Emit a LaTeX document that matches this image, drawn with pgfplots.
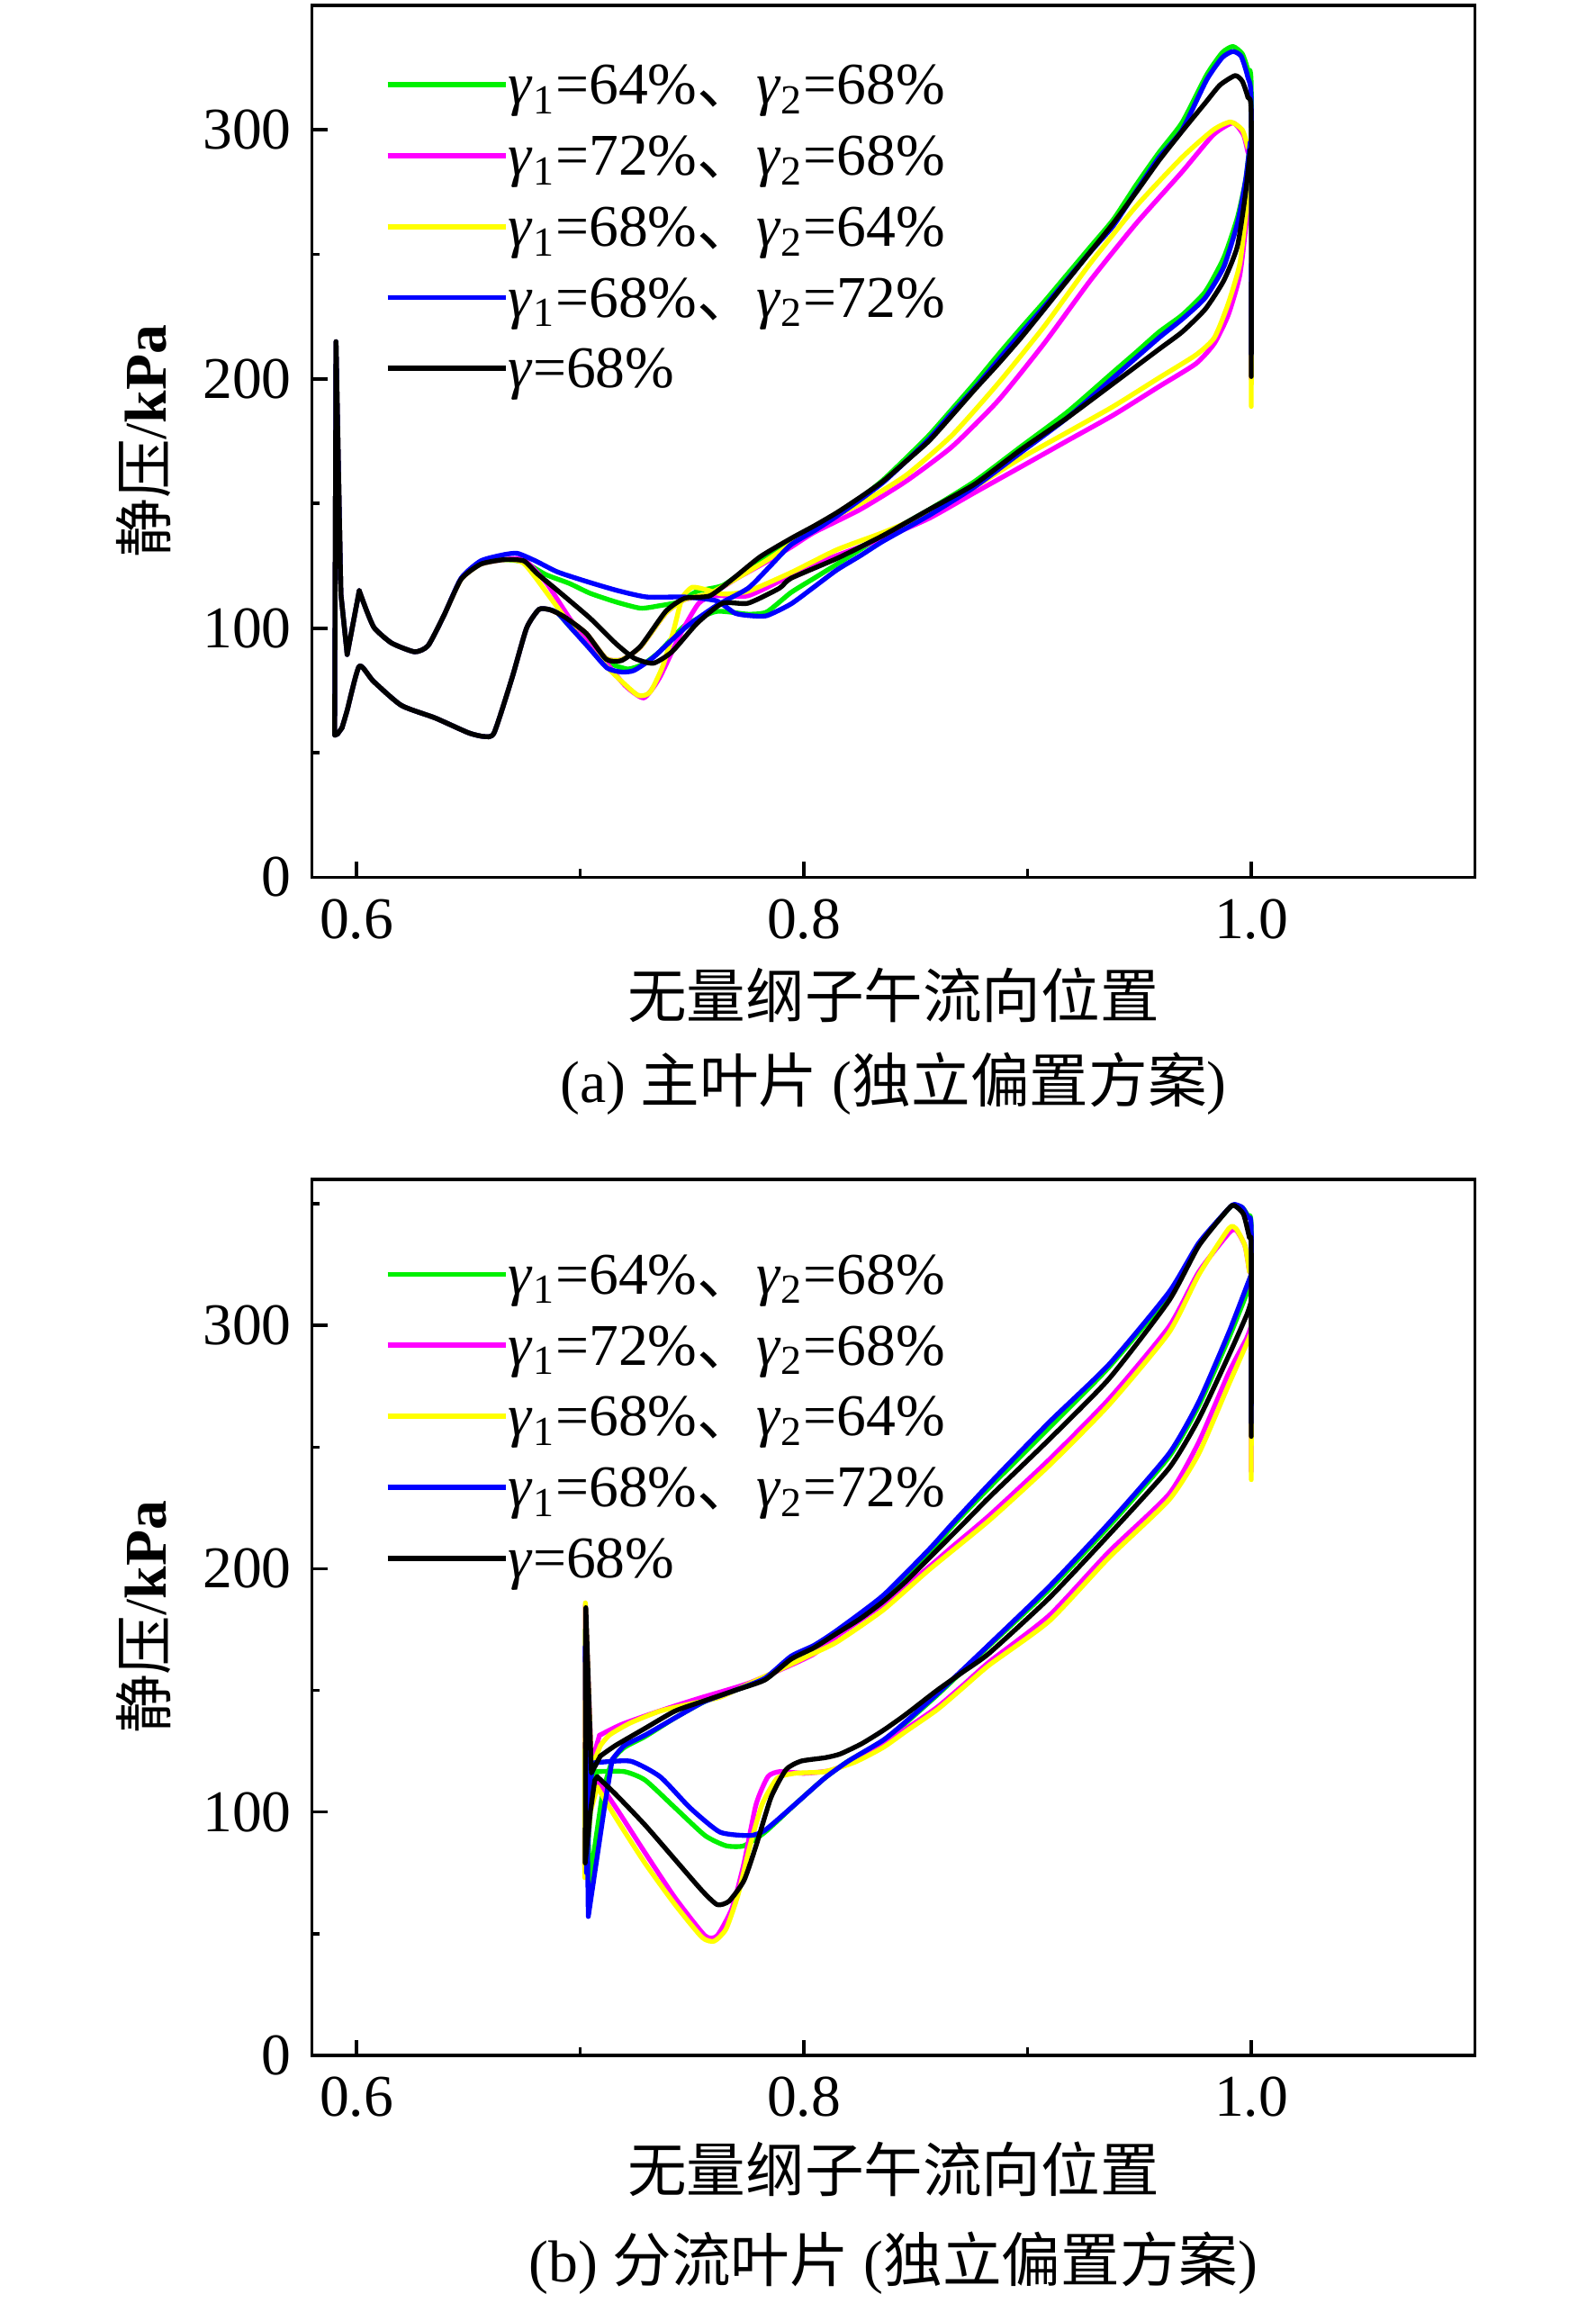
\documentclass[border=0pt]{standalone}
\usepackage{pgfplots}
\pgfplotsset{compat=1.18}
\usepackage{fontspec}
\setmainfont{Liberation Serif}
\newfontfamily\cjk{Noto Sans CJK SC}
\newcommand\fs{\fontsize{16pt}{19pt}\selectfont}
\definecolor{cG}{RGB}{0,240,0}
\definecolor{cM}{RGB}{255,0,255}
\definecolor{cY}{RGB}{255,255,0}
\definecolor{cB}{RGB}{0,0,255}
\pgfplotsset{
  myaxis/.style={
    scale only axis, width=315pt,
    xmin=0.58, xmax=1.10, ymin=0,
    xtick={0.6,0.8,1.0}, xticklabels={0.6,0.8,1.0},
    minor xtick={0.7,0.9},
    ytick={0,100,200,300}, yticklabels={0,100,200,300},
    minor ytick={50,150,250,350},
    tick align=inside, tick pos=left,
    major tick length=4.2pt, minor tick length=2.2pt,
    tick style={black, line width=0.9pt},
    axis line style={line width=0.9pt},
    xticklabel style={font=\fs, yshift=-2.4pt},
    yticklabel style={font=\fs, xshift=-2pt},
    every axis plot/.append style={smooth, tension=0.35, line width=1.3pt, line join=round, line cap=round, no markers},
    legend cell align=left,
    legend image code/.code={\draw[##1,line width=1.4pt,line cap=butt] (0pt,0pt) -- (32pt,0pt);},
  },
  mylegend/.style={legend style={draw=none, fill=none, inner sep=0pt, outer sep=0pt,
    at={(axis description cs:0,1)}, anchor=north west, xshift=19.85pt, yshift=#1,
    row sep=4.6pt, font=\fs, nodes={inner sep=0pt, text height=12.6pt, text depth=2pt},
    /tikz/every even column/.append style={column sep=5pt}}},
  spk/.style={forget plot, sharp plot},
}
\begin{document}
\begin{tikzpicture}
\useasboundingbox (0,0) rectangle (432pt,623.6pt);
% ---------------- (a) main blade ----------------
\begin{axis}[myaxis, name=top, at={(84.45pt,386.05pt)}, anchor=south west,
  height=236.1pt, ymax=350, mylegend=-14.2pt]
% green
\addplot[cG] coordinates {(1.0,210) (1.0,316.6) (0.9985,324) (0.9960,330.5) (0.9918,333.5) (0.9870,331) (0.9800,322) (0.9691,303) (0.9588,291) (0.9486,278) (0.9383,264) (0.9280,253) (0.9177,242) (0.9074,231) (0.8971,220.5) (0.8868,209.7) (0.8765,198.5) (0.8663,188) (0.8560,177.5) (0.8457,168.3) (0.8354,159.5) (0.8251,152) (0.8148,145.3) (0.8045,139.5) (0.7942,134) (0.7850,129) (0.7750,124) (0.7636,117.1) (0.7523,114.8) (0.7440,110.5) (0.7354,109) (0.7270,108) (0.7160,110.5) (0.7044,114) (0.6950,118) (0.6846,121.5) (0.6748,126.5) (0.6659,127.5) (0.6555,125.7) (0.6467,119.6) (0.6390,105) (0.6320,93) (0.6260,90.5) (0.6157,94) (0.6080,100) (0.6045,107) (0.6012,115)};
\addlegendentry{\textit{γ}\textsubscript{1}=64\%{\cjk 、}\textit{γ}\textsubscript{2}=68\%}
\addplot[cG,spk] coordinates {(0.6012,115) (0.5958,89.4) (0.5930,113.7) (0.5908,215) (0.5902,57) (0.5915,57.5) (0.5935,60)};
\addplot[cG,forget plot] coordinates {(0.5935,60) (0.5958,67) (0.6012,84.7) (0.6075,78.7) (0.6200,69) (0.6350,64) (0.6500,58) (0.6570,56.5) (0.6615,58) (0.6695,80) (0.6760,100) (0.6815,107.5) (0.6860,107.5) (0.6900,106) (0.6960,100) (0.7050,92) (0.7130,86) (0.7213,83.6) (0.7280,85.5) (0.7354,90.5) (0.7467,101) (0.7608,106.7) (0.7750,105.6) (0.7834,106.5) (0.7942,114.3) (0.8045,120) (0.8148,125.7) (0.8251,131.5) (0.8354,137.2) (0.8560,147.6) (0.8765,159) (0.8971,172.9) (0.9177,186.7) (0.9383,202.8) (0.9486,210.8) (0.9588,218.9) (0.9691,225.7) (0.9794,235) (0.9877,248.7) (0.9938,264.8) (0.9975,280) (0.9995,295)};
% magenta
\addplot[cM] coordinates {(1.0,200) (1.0,285) (0.9985,291) (0.9965,298) (0.9918,302.8) (0.9830,298) (0.9691,283.2) (0.9486,262.5) (0.9280,239.5) (0.9074,214.3) (0.8868,191.3) (0.8663,172.9) (0.8457,159) (0.8251,147.6) (0.8045,138.4) (0.7942,132.5) (0.7830,126.5) (0.7700,120) (0.7580,113.5) (0.7467,111.5) (0.7382,106) (0.7270,92.5) (0.7185,87.3) (0.7116,87.8) (0.7028,97.8) (0.6940,103.9) (0.6900,106) (0.6860,107.5) (0.6815,107.5) (0.6760,100) (0.6695,80) (0.6615,58) (0.6570,56.5) (0.6500,58) (0.6350,64) (0.6200,69) (0.6075,78.7) (0.6012,84.7) (0.5958,67) (0.5935,60)};
\addlegendentry{\textit{γ}\textsubscript{1}=72\%{\cjk 、}\textit{γ}\textsubscript{2}=68\%}
\addplot[cM,spk] coordinates {(0.5935,60) (0.5915,57.5) (0.5902,57) (0.5908,215) (0.5930,113.7) (0.5958,89.4) (0.6012,115)};
\addplot[cM,forget plot] coordinates {(0.6012,115) (0.6045,107) (0.6080,100) (0.6157,94) (0.6260,90.5) (0.6320,93) (0.6390,105) (0.6467,119.6) (0.6555,125.7) (0.6659,127.5) (0.6748,127.5) (0.6850,118) (0.6960,103) (0.7100,88) (0.7200,77) (0.7284,72) (0.7354,80) (0.7450,98) (0.7530,110) (0.7600,113) (0.7750,113) (0.7942,121.1) (0.8045,125.7) (0.8148,129.2) (0.8354,136.1) (0.8560,144.1) (0.8765,154.5) (0.8971,164.8) (0.9177,175.2) (0.9383,185.5) (0.9588,197) (0.9753,206.2) (0.9835,214.3) (0.9897,225.7) (0.9949,241.8) (0.9980,265) (0.9995,282)};
% yellow
\addplot[cY] coordinates {(1.0,189) (1.0,288) (0.9985,293) (0.9960,300) (0.9907,303.2) (0.9830,300) (0.9691,289) (0.9486,269.4) (0.9280,246.4) (0.9074,221.1) (0.8868,198.2) (0.8663,177.5) (0.8457,161.4) (0.8251,149.9) (0.8045,140.7) (0.7942,133.8) (0.7830,127) (0.7700,120) (0.7580,114) (0.7467,111.5) (0.7382,106) (0.7270,92.5) (0.7185,87.3) (0.7116,87.8) (0.7028,97.8) (0.6940,103.9) (0.6900,106) (0.6860,107.5) (0.6815,107.5) (0.6760,100) (0.6695,80) (0.6615,58) (0.6570,56.5) (0.6500,58) (0.6350,64) (0.6200,69) (0.6075,78.7) (0.6012,84.7) (0.5958,67) (0.5935,60)};
\addlegendentry{\textit{γ}\textsubscript{1}=68\%{\cjk 、}\textit{γ}\textsubscript{2}=64\%}
\addplot[cY,spk] coordinates {(0.5935,60) (0.5915,57.5) (0.5902,57) (0.5908,215) (0.5930,113.7) (0.5958,89.4) (0.6012,115)};
\addplot[cY,forget plot] coordinates {(0.6012,115) (0.6045,107) (0.6080,100) (0.6157,94) (0.6260,90.5) (0.6320,93) (0.6390,105) (0.6467,119.6) (0.6555,125.7) (0.6659,127.5) (0.6748,126) (0.6874,111.3) (0.6987,97.5) (0.7128,83.6) (0.7255,73.2) (0.7312,74.3) (0.7370,85) (0.7420,100) (0.7455,112) (0.7500,116.4) (0.7560,115.5) (0.7636,113.7) (0.7750,114.8) (0.7942,122.3) (0.8148,131.5) (0.8354,138.4) (0.8560,146.4) (0.8765,156.8) (0.8971,168.3) (0.9177,178.6) (0.9383,189) (0.9588,200.5) (0.9753,209.7) (0.9835,216.6) (0.9897,230.3) (0.9949,246.4) (0.9980,270) (0.9995,285)};
% blue
\addplot[cB] coordinates {(1.0,210) (1.0,310) (0.9985,321) (0.9955,329.5) (0.9918,331.5) (0.9870,329) (0.9800,320) (0.9691,300) (0.9588,289) (0.9486,275.5) (0.9383,261.5) (0.9280,251) (0.9177,240) (0.9074,229) (0.8971,218.5) (0.8868,207.5) (0.8765,196.5) (0.8663,186.5) (0.8560,176) (0.8457,167) (0.8354,158.5) (0.8251,151.5) (0.8148,145) (0.8045,139) (0.7942,133.5) (0.7850,125) (0.7750,116) (0.7608,109) (0.7467,100) (0.7326,88.2) (0.7240,83) (0.7185,82.4) (0.7120,84) (0.7040,92) (0.6960,100) (0.6900,106) (0.6860,107.5) (0.6815,107.5) (0.6760,100) (0.6695,80) (0.6615,58) (0.6570,56.5) (0.6500,58) (0.6350,64) (0.6200,69) (0.6075,78.7) (0.6012,84.7) (0.5958,67) (0.5935,60)};
\addlegendentry{\textit{γ}\textsubscript{1}=68\%{\cjk 、}\textit{γ}\textsubscript{2}=72\%}
\addplot[cB,spk] coordinates {(0.5935,60) (0.5915,57.5) (0.5902,57) (0.5908,215) (0.5930,113.7) (0.5958,89.4) (0.6012,115)};
\addplot[cB,forget plot] coordinates {(0.6012,115) (0.6045,107) (0.6080,100) (0.6157,94) (0.6260,90.5) (0.6320,93) (0.6390,105) (0.6467,120) (0.6555,127) (0.6659,129.5) (0.6720,130) (0.6800,127) (0.6900,122.5) (0.7044,118.3) (0.7170,115) (0.7298,112.5) (0.7467,112.5) (0.7608,111) (0.7692,106) (0.7760,105) (0.7834,105) (0.7942,109.7) (0.8045,116.5) (0.8148,123.4) (0.8251,129) (0.8354,134.9) (0.8560,145.3) (0.8765,156.8) (0.8971,170.6) (0.9177,184.4) (0.9383,200.5) (0.9588,216.6) (0.9691,224) (0.9794,232.6) (0.9877,245) (0.9938,262.5) (0.9975,280) (0.9995,295)};
% black
\addplot[black] coordinates {(1.0,201) (1.0,305) (0.9985,313) (0.9960,319.5) (0.9928,321.8) (0.9860,318) (0.9794,310.8) (0.9691,299.5) (0.9588,287.8) (0.9486,275) (0.9383,262.5) (0.9280,251) (0.9177,239.5) (0.9074,228) (0.8971,216.6) (0.8868,206) (0.8765,195.9) (0.8663,185.5) (0.8560,175.2) (0.8457,167) (0.8354,159) (0.8251,152.5) (0.8148,146.4) (0.8045,141) (0.7942,136) (0.7805,128.7) (0.7693,120.6) (0.7580,113) (0.7467,112) (0.7382,106.7) (0.7270,92.8) (0.7185,87) (0.7116,87.5) (0.7028,97.8) (0.6940,103.9) (0.6900,106) (0.6860,107.5) (0.6815,107.5) (0.6760,100) (0.6695,80) (0.6615,58) (0.6570,56.5) (0.6500,58) (0.6350,64) (0.6200,69) (0.6075,78.7) (0.6012,84.7) (0.5958,67) (0.5935,60)};
\addlegendentry{\textit{γ}=68\%}
\addplot[black,spk] coordinates {(0.5935,60) (0.5915,57.5) (0.5902,57) (0.5908,215) (0.5930,113.7) (0.5958,89.4) (0.6012,115)};
\addplot[black,forget plot] coordinates {(0.6012,115) (0.6045,107) (0.6080,100) (0.6157,94) (0.6260,90.5) (0.6320,93) (0.6390,105) (0.6467,119.6) (0.6555,125.7) (0.6659,127.5) (0.6748,127) (0.6806,122) (0.6900,115) (0.7044,104) (0.7157,94) (0.7240,88) (0.7326,85.9) (0.7410,90.5) (0.7523,102) (0.7636,110) (0.7750,110) (0.7890,116) (0.7942,120) (0.8148,128) (0.8354,137.2) (0.8560,147.6) (0.8765,157.9) (0.8971,171.7) (0.9177,184.4) (0.9383,198.2) (0.9588,212) (0.9691,218.9) (0.9794,228) (0.9877,239.5) (0.9938,253.3) (0.9975,275) (0.9995,292)};
\end{axis}
\node[font=\fs, rotate=90, anchor=center] at ([xshift=-45.65pt]top.west) {{\cjk 静压}/\textbf{kPa}};
\node[font=\fs, anchor=center] at ([yshift=-32pt]top.south) {\cjk 无量纲子午流向位置};
\node[font=\fs, anchor=center] at ([yshift=-56pt]top.south) {(a) {\cjk 主叶片} ({\cjk 独立偏置方案})};
% ---------------- (b) splitter blade ----------------
\begin{axis}[myaxis, name=bot, at={(84.45pt,67.1pt)}, anchor=south west,
  height=237.1pt, ymax=360, mylegend=-18.4pt]
% green
\addplot[cG] coordinates {(1.0,260) (1.0,339.8) (0.9985,345) (0.9960,348.5) (0.9925,349.5) (0.9899,348) (0.9765,333.5) (0.9632,312.5) (0.9364,282.9) (0.9097,258) (0.8830,233.5) (0.8663,217.5) (0.8560,206.3) (0.8354,188) (0.8148,174) (0.8045,168) (0.7942,163.5) (0.7826,155) (0.7692,150) (0.7558,145.5) (0.7424,138.7) (0.7290,131) (0.7197,126.5) (0.7143,121) (0.7100,108)};
\addlegendentry{\textit{γ}\textsubscript{1}=64\%{\cjk 、}\textit{γ}\textsubscript{2}=68\%}
\addplot[cG,spk] coordinates {(0.7100,108) (0.7040,70) (0.7022,175) (0.7028,78) (0.7055,112) (0.7076,116.6)};
\addplot[cG,forget plot] coordinates {(0.7076,116.6) (0.7197,116.6) (0.7290,113.1) (0.7424,101.7) (0.7558,90.3) (0.7652,86.1) (0.7732,86.1) (0.7826,91.7) (0.7960,103.1) (0.8094,114) (0.8200,121) (0.8354,129) (0.8454,136.5) (0.8595,148) (0.8710,158) (0.8830,168.5) (0.9097,191.5) (0.9364,217.5) (0.9632,246) (0.9765,267) (0.9899,294.7) (0.9979,313) (1.0,318)};
% magenta
\addplot[cM] coordinates {(1.0,240) (1.0,318) (0.9992,322) (0.9972,332.7) (0.9932,339.3) (0.9899,337.9) (0.9765,322) (0.9632,299.5) (0.9364,269.8) (0.9097,244.9) (0.8830,222) (0.8663,209) (0.8560,200.8) (0.8354,185.4) (0.8148,172.3) (0.8045,165) (0.7942,160.4) (0.7749,152.8) (0.7523,146.5) (0.7354,141.5) (0.7185,136) (0.7086,131.5)};
\addlegendentry{\textit{γ}\textsubscript{1}=72\%{\cjk 、}\textit{γ}\textsubscript{2}=68\%}
\addplot[cM,spk] coordinates {(0.7086,131.5) (0.7050,120) (0.7023,185) (0.7020,78) (0.7045,105) (0.7076,113.1)};
\addplot[cM,forget plot] coordinates {(0.7076,113.1) (0.7170,100.3) (0.7290,83.2) (0.7424,64.7) (0.7558,49.1) (0.7612,49.1) (0.7679,60.5) (0.7732,78.9) (0.7786,103.1) (0.7839,114.5) (0.7893,116.6) (0.8000,115.9) (0.8116,117) (0.8228,121) (0.8354,128) (0.8454,134) (0.8595,143) (0.8710,152) (0.8830,161.8) (0.9097,180.8) (0.9364,207) (0.9632,230.7) (0.9765,252) (0.9899,280.5) (0.9979,294.7) (1.0,300)};
% yellow
\addplot[cY] coordinates {(1.0,236.6) (1.0,318) (0.9992,322) (0.9972,332.7) (0.9932,339.8) (0.9899,339.8) (0.9765,320.8) (0.9632,297.1) (0.9364,267.4) (0.9097,242.5) (0.8830,220) (0.8560,199.6) (0.8354,183) (0.8148,169.9) (0.8027,164.5) (0.7893,158.6) (0.7759,152.9) (0.7625,147.2) (0.7491,144.4) (0.7357,141.5) (0.7224,136.6) (0.7130,131.6) (0.7090,127.3)};
\addlegendentry{\textit{γ}\textsubscript{1}=68\%{\cjk 、}\textit{γ}\textsubscript{2}=64\%}
\addplot[cY,spk] coordinates {(0.7090,127.3) (0.7050,118) (0.7023,186) (0.7020,73) (0.7045,100) (0.7076,110.2)};
\addplot[cY,forget plot] coordinates {(0.7076,110.2) (0.7170,96) (0.7290,78.9) (0.7424,61.9) (0.7545,48.4) (0.7599,46.9) (0.7652,51.9) (0.7706,66.1) (0.7759,86.1) (0.7813,103.1) (0.7880,113.8) (0.7960,115.9) (0.8094,116.6) (0.8228,120.5) (0.8354,126.5) (0.8454,133) (0.8595,142) (0.8710,151) (0.8830,160.5) (0.9097,178.5) (0.9364,204.6) (0.9632,228.3) (0.9765,247.3) (0.9899,275.7) (0.9979,292.4) (1.0,297)};
% blue
\addplot[cB] coordinates {(1.0,260) (1.0,339) (0.9985,344.5) (0.9960,348.5) (0.9925,349.8) (0.9899,348.1) (0.9765,333.9) (0.9632,313.7) (0.9364,284) (0.9097,260.3) (0.8830,235) (0.8663,218.5) (0.8560,208) (0.8354,189) (0.8148,174.7) (0.8045,168.5) (0.7942,164) (0.7826,155) (0.7692,150) (0.7558,145.5) (0.7491,142.2) (0.7424,138.7) (0.7290,131.6) (0.7197,127.3) (0.7143,121.6)};
\addlegendentry{\textit{γ}\textsubscript{1}=68\%{\cjk 、}\textit{γ}\textsubscript{2}=72\%}
\addplot[cB,spk] coordinates {(0.7143,121.6) (0.7110,103) (0.7036,57) (0.7022,168) (0.7028,75) (0.7050,115) (0.7063,120.2)};
\addplot[cB,forget plot] coordinates {(0.7063,120.2) (0.7224,120.9) (0.7357,114.5) (0.7491,101.7) (0.7625,91.7) (0.7759,90.3) (0.7826,92.5) (0.7960,103.1) (0.8094,114) (0.8200,121) (0.8354,129.5) (0.8454,137) (0.8595,148.5) (0.8710,158.5) (0.8830,169) (0.9097,192.7) (0.9364,218.8) (0.9632,247.3) (0.9765,268.6) (0.9899,297) (0.9979,316) (1.0,321)};
% black
\addplot[black] coordinates {(1.0,254.4) (1.0,332) (0.9992,336) (0.9965,345.8) (0.9925,349.3) (0.9899,348.1) (0.9765,332.7) (0.9632,310.2) (0.9364,278.1) (0.9097,253.2) (0.8830,229.5) (0.8765,223.4) (0.8663,213.9) (0.8560,204.4) (0.8457,194.9) (0.8354,186.5) (0.8251,179.4) (0.8148,173.5) (0.8045,167.5) (0.7942,162.8) (0.7826,154.3) (0.7692,150) (0.7558,145.8) (0.7424,141.5) (0.7290,134.4) (0.7157,127.3) (0.7090,123)};
\addlegendentry{\textit{γ}=68\%}
\addplot[black,spk] coordinates {(0.7090,123) (0.7050,116) (0.7025,184) (0.7022,79) (0.7045,100) (0.7065,113) (0.7076,114.5)};
\addplot[black,forget plot] coordinates {(0.7076,114.5) (0.7157,107.4) (0.7290,94.6) (0.7424,80.4) (0.7545,67.6) (0.7612,61.9) (0.7665,63.3) (0.7732,71.8) (0.7786,86.1) (0.7853,106) (0.7920,117.4) (0.7987,120.9) (0.8094,122.3) (0.8161,123.8) (0.8257,128) (0.8354,133.5) (0.8454,140) (0.8595,150) (0.8710,157.5) (0.8830,165.4) (0.9097,188) (0.9364,214) (0.9632,241.3) (0.9765,261.5) (0.9899,287.6) (0.9979,304.2) (1.0,310)};
\end{axis}
\node[font=\fs, rotate=90, anchor=center] at ([xshift=-45.65pt]bot.west) {{\cjk 静压}/\textbf{kPa}};
\node[font=\fs, anchor=center] at ([yshift=-30.8pt]bot.south) {\cjk 无量纲子午流向位置};
\node[font=\fs, anchor=center] at ([yshift=-56.4pt]bot.south) {(b) {\cjk 分流叶片} ({\cjk 独立偏置方案})};
\end{tikzpicture}
\end{document}
